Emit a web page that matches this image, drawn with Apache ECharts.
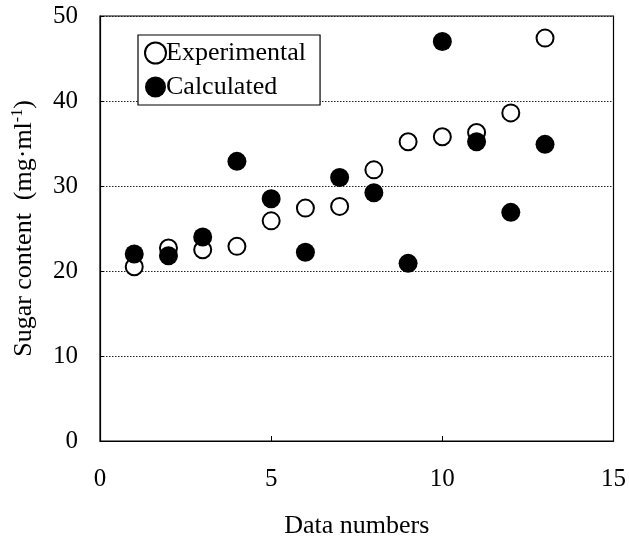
<!DOCTYPE html>
<html><head><meta charset="utf-8">
<script src="https://cdn.jsdelivr.net/npm/echarts@6/dist/echarts.min.js"></script>
<style>html,body{margin:0;padding:0;background:#fff}#c{width:629px;height:544px}</style>
</head><body><div id="c"></div>
<script>
const dataNumbers = [1,2,3,4,5,6,7,8,9,10,11,12,13];
const experimental = [20.5,22.7,22.5,22.9,25.9,27.4,27.6,31.9,35.2,35.8,36.3,38.6,47.4];
const calculated = [22.0,21.8,24.0,32.9,28.5,22.2,31.0,29.2,20.9,47.0,35.2,26.9,34.9];
const xTicks = [0,5,10,15];
const yTicks = [0,10,20,30,40,50];

const font = '"Liberation Serif","DejaVu Serif",serif';
const chart = echarts.init(document.getElementById('c'));
chart.setOption({
  animation:false,
  backgroundColor:'#fff',
  grid:{left:100,right:14,top:16,bottom:99,show:true,borderColor:'#000',borderWidth:1.2},
  legend:{
    left:138,top:35,orient:'vertical',
    itemWidth:21,itemHeight:21,itemGap:8,
    padding:[5,14,5,6],
    borderColor:'#000',borderWidth:1.2,backgroundColor:'#fff',
    textStyle:{fontFamily:font,fontSize:26,color:'#000',padding:[0,0,0,-5]},
    data:['Experimental','Calculated']
  },
  xAxis:{
    type:'value',min:0,max:15,interval:5,
    name:'Data numbers',nameLocation:'middle',nameGap:72,
    nameTextStyle:{fontFamily:font,fontSize:26,color:'#000'},
    axisLine:{show:true,lineStyle:{color:'#000',width:1.2}},
    axisTick:{show:true,inside:true,length:5,lineStyle:{color:'#000'}},
    axisLabel:{fontFamily:font,fontSize:25,color:'#000',margin:26,
      formatter:v=>xTicks.includes(v)?String(v):''},
    splitLine:{show:false}
  },
  yAxis:{
    type:'value',min:0,max:50,interval:10,
    name:'{a|Sugar content  (mg·ml}{s|-1}{a|)}',nameLocation:'middle',nameGap:62,
    nameTextStyle:{fontFamily:font,fontSize:26,color:'#000',
      rich:{a:{fontFamily:font,fontSize:26,color:'#000'},
            s:{fontFamily:font,fontSize:16,color:'#000',verticalAlign:'top',padding:[0,0,12,0]}}},
    axisLine:{show:true,lineStyle:{color:'#000',width:1.2}},
    axisTick:{show:true,inside:true,length:4,lineStyle:{color:'#000'}},
    axisLabel:{fontFamily:font,fontSize:25,color:'#000',margin:22,
      formatter:v=>yTicks.includes(v)?String(v):''},
    splitLine:{show:true,lineStyle:{color:'#222',type:[1.5,1.5],width:1}}
  },
  series:[
    {name:'Experimental',type:'scatter',symbol:'circle',symbolSize:17,
     itemStyle:{color:'#fff',borderColor:'#000',borderWidth:2,opacity:1},
     data:dataNumbers.map((x,i)=>[x,experimental[i]])},
    {name:'Calculated',type:'scatter',symbol:'circle',symbolSize:19,
     itemStyle:{color:'#000',borderColor:'#000',borderWidth:0,opacity:1},
     data:dataNumbers.map((x,i)=>[x,calculated[i]])}
  ]
});
</script></body></html>
